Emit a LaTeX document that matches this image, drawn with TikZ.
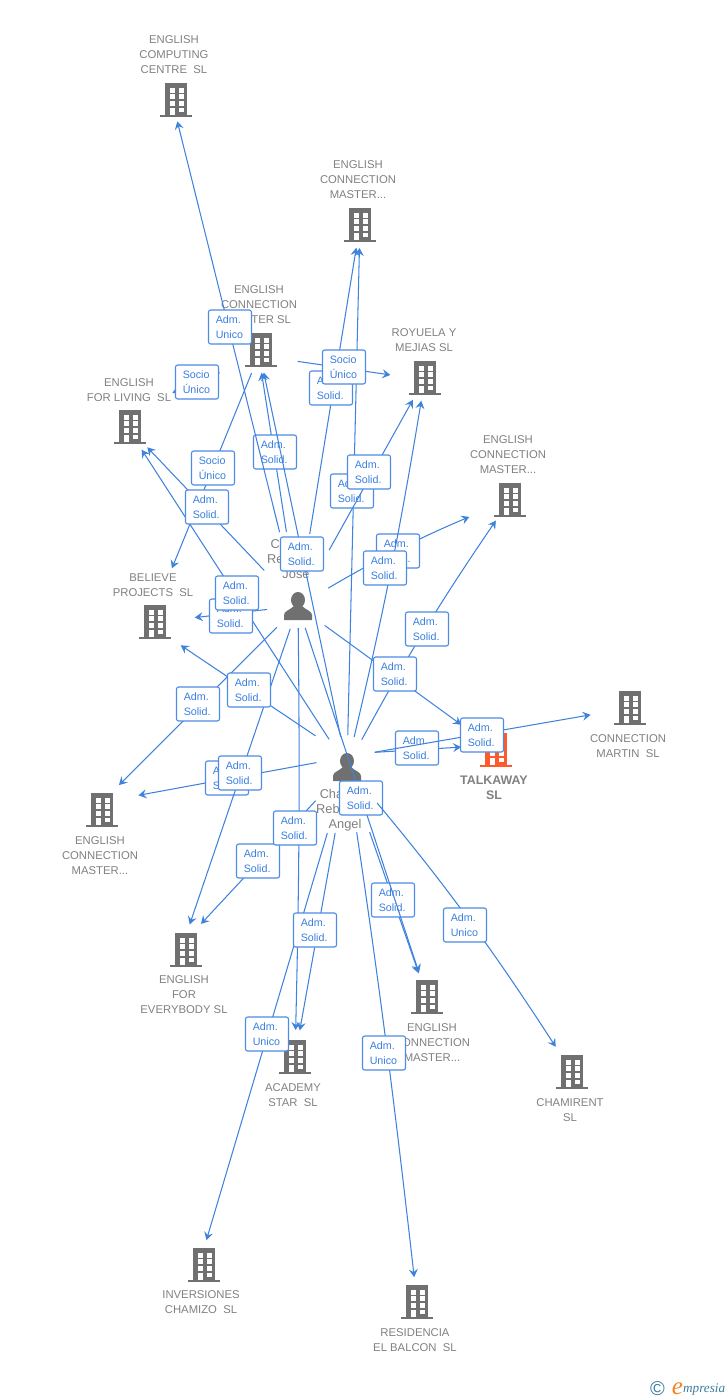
\documentclass[tikz,border=0pt]{standalone}
\usepackage{fontspec}
\setmainfont{Liberation Sans}
\newfontfamily\logofont{Liberation Serif}
\usetikzlibrary{arrows.meta}
\definecolor{linkblue}{HTML}{3F82DD}
\definecolor{tagborder}{HTML}{4C8BE6}
\definecolor{tagtext}{HTML}{3A7FE0}
\definecolor{namegray}{HTML}{808080}
\definecolor{icongray}{HTML}{707070}
\definecolor{hotorange}{HTML}{FF5A2B}
\definecolor{logoteal}{HTML}{3A7C9C}
\definecolor{logoorange}{HTML}{F58220}
\tikzset{
  hub/.style={inner sep=0pt,minimum size=0pt,outer sep=0pt},
  cname/.style={inner sep=0pt,align=center,text=namegray,font=\fontsize{11.3}{15}\selectfont},
  hotname/.style={cname,font=\fontsize{12.4}{15}\selectfont\bfseries},
  pname/.style={inner sep=0pt,align=center,text=namegray,font=\fontsize{12.8}{15}\selectfont},
  link/.style={draw=linkblue,line width=1.05pt,-{Stealth[length=8pt,width=9pt,inset=3pt]}},
  tag/.style={draw=tagborder,line width=1.1pt,fill=white,rounded corners=2.2pt,minimum width=43pt,minimum height=34pt,inner sep=0pt,text width=28.5pt,align=left,text=tagtext,font=\fontsize{10.7}{15}\selectfont},
  pics/bldg/.style={code={
    \fill[pic actions] (-11,-17) rectangle (11,16);
    \fill[pic actions] (-16,14.5) rectangle (16,17);
    \foreach \yy in {-12.5,-6,0.5}{
      \fill[white] (-6.5,\yy) rectangle (-1.5,\yy+5);
      \fill[white] (2.5,\yy) rectangle (7.5,\yy+5);
    }
    \fill[white] (-6.5,7.5) rectangle (-1.5,14.5);
    \fill[white] (2.5,7.5) rectangle (7.5,12);
  }},
  pics/guy/.style={code={
    \fill[pic actions] (0,-6) ellipse (7 and 8);
    \fill[pic actions] (-14,14) -- (-14,9) .. controls (-14,5) and (-8,4) .. (-4,0) -- (4,0) .. controls (8,4) and (14,5) .. (14,9) -- (14,14) -- cycle;
  }}
}
\begin{document}
\begin{tikzpicture}[x=1pt,y=-1pt]
\useasboundingbox (0,0) rectangle (728,1400);
% companies
\node[hub] (cComp) at (176,100) {};
\node[hub] (cTop) at (360,225) {};
\node[hub] (cMid) at (261,350) {};
\node[hub] (cRoy) at (425,378) {};
\node[hub] (cLiv) at (130,427) {};
\node[hub] (cRight) at (510,500) {};
\node[hub] (cBel) at (155,622) {};
\node[hub] (cMar) at (630,708) {};
\node[hub] (cTalk) at (496,750) {};
\node[hub] (cLeft) at (102,810) {};
\node[hub] (cEve) at (186,950) {};
\node[hub] (cBot) at (427,997) {};
\node[hub] (cAca) at (295,1057) {};
\node[hub] (cCha) at (572,1072) {};
\node[hub] (cInv) at (204,1265) {};
\node[hub] (cRes) at (417,1302) {};
\node[hub] (pA) at (298,606) {};
\node[hub] (pB) at (347,767) {};
\foreach \c in {cComp,cTop,cMid,cRoy,cLiv,cRight,cBel,cMar,cLeft,cEve,cBot,cAca,cCha,cInv,cRes}{
  \pic[fill=icongray] at (\c) {bldg};
}
\pic[fill=hotorange] at (cTalk) {bldg};
\pic[fill=icongray] at (pA) {guy};
\pic[fill=icongray] at (pB) {guy};
% names
\node[cname] (nComp) at (174,55) {ENGLISH\\COMPUTING\\CENTRE~ SL};
\node[cname] (nTop) at (358,180) {ENGLISH\\CONNECTION\\MASTER...};
\node[cname] (nMid) at (259,305) {ENGLISH\\CONNECTION\\MASTER SL};
\node[cname] (nRoy) at (424,340.5) {ROYUELA Y\\MEJIAS SL};
\node[cname] (nLiv) at (129,390.5) {ENGLISH\\FOR LIVING~ SL};
\node[cname] (nRight) at (508,455) {ENGLISH\\CONNECTION\\MASTER...};
\node[cname] (nBel) at (153,585.5) {BELIEVE\\PROJECTS~ SL};
\node[cname] (nMar) at (628,746.5) {CONNECTION\\MARTIN~ SL};
\node[hotname] (nTalk) at (494,787.5) {TALKAWAY\\SL};
\node[cname] (nLeft) at (100,856) {ENGLISH\\CONNECTION\\MASTER...};
\node[cname] (nEve) at (184,995) {ENGLISH\\FOR\\EVERYBODY SL};
\node[cname] (nBot) at (432,1043) {ENGLISH\\CONNECTION\\MASTER...};
\node[cname] (nAca) at (293,1095.5) {ACADEMY\\STAR~ SL};
\node[cname] (nCha) at (570,1110.5) {CHAMIRENT\\SL};
\node[cname] (nInv) at (201,1302.5) {INVERSIONES\\CHAMIZO~ SL};
\node[cname] (nRes) at (415,1340.5) {RESIDENCIA\\EL BALCON~ SL};
\node[pname] (nA) at (296,559) {Chamizo\\Rebolledo\\Jose};
\node[pname] (nB) at (345,810) {Chamizo\\Rebolledo\\Angel};
% links and their tags, in stacking order
\draw[link,shorten <=32pt,shorten >=23pt] (pB) -- (cTop);
\node[tag] (t01) at (352,491) {Adm.\\Solid.};
\draw[link,shorten <=35pt,shorten >=44pt] (pA) to[bend left=4] (cRight);
\node[tag] (t02) at (398,551) {Adm.\\Solid.};
\draw[link,shorten <=31pt,shorten >=23pt] (pB) to[bend right=2] (cRoy);
\node[tag] (t03) at (385,568) {Adm.\\Solid.};
\draw[link,shorten <=64pt,shorten >=25pt] (pA) -- (cRoy);
\node[tag] (t04) at (369,472) {Adm.\\Solid.};
\draw[link,shorten <=75pt,shorten >=23pt] (pA.center) -- ([xshift=-3pt]cMid.center);
\node[tag] (t05) at (275,452) {Adm.\\Solid.};
\draw[link,shorten <=76pt,shorten >=22pt] (pA.center) -- ([xshift=-4pt]cComp.center);
\node[tag] (t06) at (230,327) {Adm.\\Unico};
\draw[link,shorten <=31pt,shorten >=23pt] (pB.center) -- ([xshift=-2pt]cMid.center);
\node[tag] (t07) at (302,554) {Adm.\\Solid.};
\draw[link,shorten <=73pt,shorten >=23pt] (pA) -- (cTop);
\node[tag] (t08) at (331,388) {Adm.\\Solid.};
\draw[link,shorten <=37pt,shorten >=35pt] ([yshift=-6pt]cMid.center) -- ([yshift=-2pt]cRoy.center);
\node[tag] (t09) at (344,367) {Socio\\Único};
\draw[link,shorten <=45pt,shorten >=46pt] ([yshift=-5pt]cMid.center) -- ([yshift=16pt]cLiv.center);
\node[tag] (t10) at (197,382) {Socio\\Único};
\draw[link,shorten <=25pt,shorten >=58pt] (cMid.center) -- ([xshift=-5pt]cBel.center);
\node[tag] (t11) at (213,468) {Socio\\Único};
\draw[link,shorten <=33pt,shorten >=27pt] (pB.center) -- ([xshift=-3pt]cLiv.center);
\draw[link,shorten <=49pt,shorten >=28pt] (pA.center) -- ([xshift=-2pt]cLiv.center);
\node[tag] (t12) at (207,507) {Adm.\\Solid.};
\draw[link,shorten <=31pt,shorten >=40pt] (pA) -- (cBel);
\node[tag] (t13) at (231,616) {Adm.\\Solid.};
\node[tag] (t14) at (237,593) {Adm.\\Solid.};
\draw[link,shorten <=31pt,shorten >=25pt] (pB) to[bend left=3] (cRight);
\node[tag] (t15) at (427,629) {Adm.\\Solid.};
\draw[link,shorten <=33pt,shorten >=43pt] (pA) -- (cTalk);
\node[tag] (t16) at (395,674) {Adm.\\Solid.};
\draw[link,shorten <=30pt,shorten >=24pt] (pA.center) -- ([yshift=8pt]cLeft.center);
\node[tag] (t17) at (198,704) {Adm.\\Solid.};
\draw[link,shorten <=31pt,shorten >=37pt] ([yshift=10pt]pB.center) -- ([yshift=8pt]cLeft.center);
\node[tag] (t18) at (227,778) {Adm.\\Solid.};
\draw[link,shorten <=24pt,shorten >=27pt] (pA.center) -- ([xshift=-5pt]cEve.center);
\node[tag] (t19) at (240,773) {Adm.\\Solid.};
\draw[link,shorten <=38pt,shorten >=31pt] ([yshift=10pt]pB.center) -- ([yshift=-6pt]cBel.center);
\node[tag] (t20) at (249,690) {Adm.\\Solid.};
\draw[link,shorten <=28pt,shorten >=35pt] ([yshift=13pt]pB.center) -- ([yshift=5pt]cTalk.center);
\node[tag] (t21) at (417,748) {Adm.\\Solid.};
\draw[link,shorten <=28pt,shorten >=40pt] ([yshift=10pt]pB.center) -- (cMar.center);
\node[tag] (t22) at (482,735) {Adm.\\Solid.};
\draw[link,shorten <=69pt,shorten >=25pt] (pB) -- (cBot);
\node[tag] (t23) at (393,900) {Adm.\\Solid.};
\draw[link,shorten <=23pt,shorten >=26pt] (pA) -- (cBot);
\node[tag] (t24) at (361,798) {Adm.\\Solid.};
\draw[link,shorten <=47pt,shorten >=30pt] (pB) to[bend left=3.5] (cCha);
\node[tag] (t25) at (465,925) {Adm.\\Unico};
\draw[link,shorten <=46pt,shorten >=22pt] (pB.center) -- ([yshift=10pt]cEve.center);
\node[tag] (t26) at (258,861) {Adm.\\Solid.};
\draw[link,shorten <=22pt,shorten >=27pt] (pA) to[bend left=1] (cAca);
\node[tag] (t27) at (295,828) {Adm.\\Solid.};
\draw[link,shorten <=69pt,shorten >=26pt] (pB.center) -- ([xshift=-5pt]cInv.center);
\draw[link,shorten <=67pt,shorten >=27pt] (pB) -- (cAca);
\node[tag] (t28) at (315,930) {Adm.\\Solid.};
\node[tag] (t29) at (267,1034) {Adm.\\Unico};
\draw[link,shorten <=66pt,shorten >=25pt] (pB) to[bend left=1] (cRes);
\node[tag] (t30) at (384,1053) {Adm.\\Unico};
% logo
\node[inner sep=0pt,text=logoteal,font=\fontsize{20}{20}\selectfont] (logoC) at (657.5,1389) {©};
\node[inner sep=0pt,text=logoorange,font=\logofont\itshape\fontsize{25}{25}\selectfont] (logoE) at (677.5,1389) {e};
\node[inner sep=0pt,anchor=west,text=logoteal,font=\logofont\itshape\fontsize{13.2}{13.2}\selectfont] (logoT) at (683,1390) {mpresia};
\end{tikzpicture}
\end{document}
